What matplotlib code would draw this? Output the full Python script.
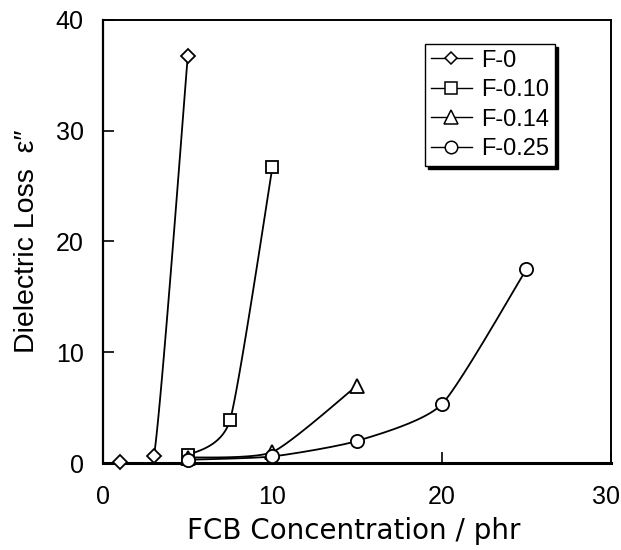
import matplotlib
matplotlib.use("Agg")
import matplotlib.pyplot as plt
from matplotlib.transforms import ScaledTranslation
import numpy as np

plt.rcParams['font.family'] = ['Liberation Sans', 'DejaVu Sans']

# FCB concentration (phr) and dielectric loss for each sample
x_f0 = [1, 3, 5]
y_f0 = [0.1, 0.6, 36.7]
x_f010 = [5, 7.5, 10]
y_f010 = [0.7, 3.9, 26.7]
x_f014 = [5, 10, 15]
y_f014 = [0.5, 1.0, 7.0]
x_f025 = [5, 10, 15, 20, 25]
y_f025 = [0.3, 0.6, 2.0, 5.3, 17.5]

series = [
    ("F-0", x_f0, y_f0, "D", 7),
    ("F-0.10", x_f010, y_f010, "s", 8.5),
    ("F-0.14", x_f014, y_f014, "^", 10),
    ("F-0.25", x_f025, y_f025, "o", 9.5),
]


def smooth(x, y, n=40, tension=0.5):
    # cardinal spline through the points, like a spreadsheet "smoothed line"
    x = np.asarray(x, float)
    y = np.asarray(y, float)
    px = np.concatenate([[x[0]], x, [x[-1]]])
    py = np.concatenate([[y[0]], y, [y[-1]]])
    xs, ys = [], []
    t = np.linspace(0, 1, n)
    for i in range(1, len(px) - 2):
        p0, p1, p2, p3 = (np.array([px[j], py[j]]) for j in range(i - 1, i + 3))
        m1 = tension * (p2 - p0)
        m2 = tension * (p3 - p1)
        h00 = 2 * t**3 - 3 * t**2 + 1
        h10 = t**3 - 2 * t**2 + t
        h01 = -2 * t**3 + 3 * t**2
        h11 = t**3 - t**2
        pts = (np.outer(h00, p1) + np.outer(h10, m1) + np.outer(h01, p2) + np.outer(h11, m2))
        xs.extend(pts[:, 0])
        ys.extend(pts[:, 1])
    return np.array(xs), np.array(ys)


fig = plt.figure(figsize=(6.21, 5.5), dpi=100)
ax = fig.add_axes([0.166, 0.158, 0.818, 0.806])

for label, xs, ys, mk, ms in series:
    sx, sy = smooth(xs, ys, tension=0.3)
    ax.plot(sx, sy, color="black", lw=1.3, zorder=2)
    ax.plot(xs, ys, linestyle="none", marker=mk, ms=ms, mfc="white", mec="black",
            mew=1.3, zorder=3, clip_on=False)
    ax.plot([], [], color="black", lw=1.0, marker=mk, ms=ms - 0.5, mfc="white",
            mec="black", mew=1.1, label=label)

ax.set_xlim(0, 30)
ax.set_ylim(0, 40)
ax.set_xticks([0, 10, 20, 30])
ax.set_yticks([0, 10, 20, 30, 40])
ax.tick_params(direction="in", length=8, width=1.2, labelsize=18)
ax.tick_params(axis="x", pad=16)
ax.tick_params(axis="y", pad=14)
for sp in ax.spines.values():
    sp.set_linewidth(1.4)
ax.spines["bottom"].set_linewidth(2.2)
ax.spines["left"].set_linewidth(1.6)

# pull the last x tick label in from the figure edge
last = ax.get_xticklabels()[-1]
last.set_transform(last.get_transform() + ScaledTranslation(-0.05, 0, fig.dpi_scale_trans))

ax.set_xlabel("FCB Concentration / phr", fontsize=20, family="DejaVu Sans")
ax.xaxis.set_label_coords(0.494, -0.122)
ax.set_ylabel("Dielectric Loss  ε″", fontsize=20.5)
ax.yaxis.set_label_coords(-0.124, 0.5)

leg = ax.legend(loc="upper right", bbox_to_anchor=(0.890, 0.946), fontsize=17,
                frameon=True, fancybox=False, shadow={"color": "black", "alpha": 1.0,
                                                      "ox": 2.2, "oy": -2.2},
                handlelength=1.75, handletextpad=0.4, labelspacing=0.32, borderpad=0.25,
                borderaxespad=0)
leg.get_frame().set_edgecolor("black")
leg.get_frame().set_linewidth(1.0)

fig.savefig("out.png", dpi=100)
